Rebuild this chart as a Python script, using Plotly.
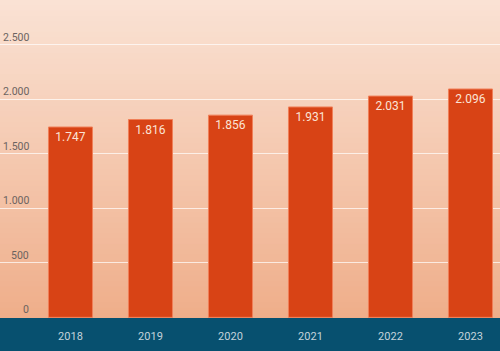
import plotly.graph_objects as go

years = ["2018", "2019", "2020", "2021", "2022", "2023"]
values = [1747, 1816, 1856, 1931, 2031, 2096]
value_labels = ["1.747", "1.816", "1.856", "1.931", "2.031", "2.096"]
y_ticks = [0, 500, 1000, 1500, 2000, 2500]
y_tick_labels = ["0", "500", "1.000", "1.500", "2.000", "2.500"]

fig = go.Figure()
fig.add_trace(go.Bar(
    x=years, y=values, text=value_labels,
    textposition="inside", insidetextanchor="end", textangle=0,
    textfont=dict(family="Roboto", size=12, color="#FBE3D6"),
    marker=dict(color="#D84315", line=dict(color="#F07F58", width=1)),
    width=0.55, hoverinfo="skip",
))

# vertical gradient background (overlapping bands to avoid seams)
top = (250, 226, 212)
bot = (239, 174, 138)
n = 60
shapes = []
for i in range(n):
    t = i / (n - 1)
    c = tuple(round(top[k] + (bot[k] - top[k]) * t) for k in range(3))
    y1 = 1 - i / n
    y0 = 0 if i == n - 1 else 1 - (i + 2) / n
    shapes.append(dict(type="rect", xref="paper", yref="paper",
                       x0=0, x1=1, y0=y0, y1=y1,
                       fillcolor="rgb(%d,%d,%d)" % c, line=dict(width=0), layer="below"))

annotations = []
for v, lab in zip(y_ticks, y_tick_labels):
    annotations.append(dict(xref="paper", yref="y", x=0, y=v, xanchor="right", yanchor="bottom",
                            xshift=30, yshift=0, text=lab, showarrow=False, align="right",
                            borderpad=0,
                            font=dict(family="Roboto", size=10.5, color="#6b6360")))

fig.update_layout(
    width=500, height=351,
    margin=dict(l=0, r=0, t=0, b=33),
    paper_bgcolor="#07506F",
    plot_bgcolor="rgba(0,0,0,0)",
    showlegend=False,
    shapes=shapes,
    annotations=annotations,
    xaxis=dict(range=[-0.881, 5.369], showgrid=False, zeroline=False, showline=False,
               tickfont=dict(family="Roboto", size=11, color="#C3D3DB"),
               ticks="", ticklabelstandoff=10, fixedrange=True),
    yaxis=dict(range=[-6, 2913], tickvals=y_ticks, showticklabels=False,
               showgrid=True, gridcolor="rgba(255,255,255,0.7)", gridwidth=1,
               zeroline=False, showline=False, fixedrange=True),
)

fig.write_html("out.html")
